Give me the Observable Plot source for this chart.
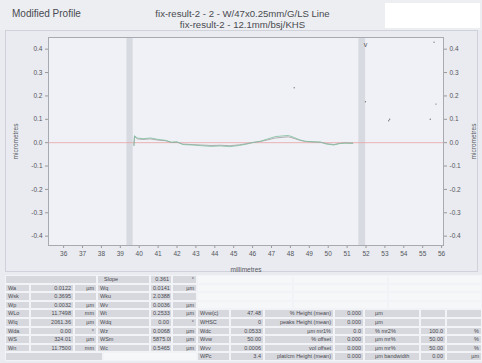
<!DOCTYPE html>
<html><head><meta charset="utf-8">
<script src="https://cdn.jsdelivr.net/npm/d3@7"></script>
<script src="https://cdn.jsdelivr.net/npm/@observablehq/plot@0.6"></script>
<style>
html,body{margin:0;padding:0;background:#e9ebf0;width:482px;height:363px;overflow:hidden;font-family:"Liberation Sans",Arial,sans-serif;color:#4a4a50;}
#wrap{position:relative;width:482px;height:363px;}
.abs{position:absolute;}
.cell{position:absolute;box-sizing:border-box;border:1px solid #f2f3f6;font-size:5.5px;line-height:7px;white-space:nowrap;overflow:hidden;padding:0 2px;color:#4a4a50;}
</style></head>
<body><div id="wrap">
<div class="abs" style="left:0;top:0;width:482px;height:30px;background:#eceef2;"></div>
<div class="abs" style="left:12px;top:8px;font-size:10px;">Modified Profile</div>
<div class="abs" style="left:100px;top:8px;width:285px;text-align:center;font-size:9.6px;line-height:11px;">fix-result-2 - 2 - W/47x0.25mm/G/LS Line<br>fix-result-2 - 12.1mm/bsj/KHS</div>
<div class="abs" style="left:385px;top:3px;width:95px;height:25px;background:#ffffff;"></div>
<div class="abs" style="left:5px;top:30px;width:473px;height:242px;border:1px solid #cfd2da;box-sizing:border-box;"></div>
<div id="chart" class="abs" style="left:0;top:30px;"></div>
<div id="table" class="abs" style="left:0;top:0;"></div>
</div>
<script>
// ---- chart data ----
const xTicks = [36,37,38,39,40,41,42,43,44,45,46,47,48,49,50,51,52,53,54,55,56];
const yTicks = [-0.4,-0.3,-0.2,-0.1,0,0.1,0.2,0.3,0.4];
const bandStart = [39.35, 51.62];
const bandEnd   = [39.68, 51.98];
const profX = [39.72,39.75,39.9,40.2,40.6,41.0,41.4,41.7,42.0,42.3,42.8,43.3,43.8,44.3,44.8,45.3,45.7,46.0,46.4,46.8,47.2,47.6,47.9,48.2,48.5,48.8,49.2,49.6,49.9,50.3,50.6,50.9,51.3];
const profGreen = [-0.012,0.030,0.020,0.017,0.020,0.014,0.010,0.002,0.004,-0.008,-0.010,-0.013,-0.016,-0.014,-0.017,-0.012,-0.006,0.000,0.006,0.016,0.026,0.029,0.031,0.022,0.012,0.006,0.004,0.002,-0.006,-0.010,-0.004,-0.002,-0.003];
const profGray  = [-0.012,0.026,0.016,0.014,0.016,0.011,0.008,0.001,0.002,-0.006,-0.008,-0.010,-0.012,-0.011,-0.013,-0.009,-0.004,0.001,0.005,0.012,0.020,0.023,0.025,0.018,0.010,0.005,0.003,0.002,-0.004,-0.008,-0.003,-0.001,-0.002];
const speckX = [48.2, 51.97, 53.2, 53.25, 55.4, 55.7, 55.6];
const speckY = [0.235, 0.175, 0.094, 0.10, 0.10, 0.165, 0.43];
const markX = [51.97];
const markY = [0.42];

const bands = bandStart.map((s,i)=>({x1:s,x2:bandEnd[i]}));
const green = profX.map((x,i)=>({x, y:profGreen[i]}));
const gray = profX.map((x,i)=>({x, y:profGray[i]}));
const specks = speckX.map((x,i)=>({x, y:speckY[i]}));
const marks = markX.map((x,i)=>({x, y:markY[i], t:"v"}));
const fmt = d => d.toFixed(1);

const chart = Plot.plot({
  width: 482, height: 245,
  marginLeft: 48, marginRight: 39, marginTop: 7, marginBottom: 30,
  x: {domain:[35.2,56.1]},
  y: {domain:[-0.44,0.45]},
  style: {background:"transparent", color:"#55565c", fontSize:"6.5px", fontFamily:"Liberation Sans, Arial, sans-serif"},
  marks: [
    Plot.frame({fill:"#f0f1f6", stroke:null}),
    Plot.rect(bands, {x1:"x1", x2:"x2", fill:"#d8dae1"}),
    Plot.ruleY([0], {stroke:"#e7a3a3", strokeWidth:0.8}),
    Plot.line(gray, {x:"x", y:"y", stroke:"#a09c9c", strokeWidth:0.8}),
    Plot.line(green, {x:"x", y:"y", stroke:"#7fbf9f", strokeWidth:0.8}),
    Plot.dot(specks, {x:"x", y:"y", r:0.7, fill:"#777", stroke:null}),
    Plot.text(marks, {x:"x", y:"y", text:"t", fontSize:7, fill:"#555"}),
    Plot.axisX({ticks:xTicks, tickSize:3, tickPadding:3, label:"millimetres", labelAnchor:"center", labelOffset:26, labelArrow:"none", stroke:"#999"}),
    Plot.axisY({anchor:"left", ticks:yTicks, tickFormat:fmt, tickSize:3, tickPadding:3, label:"micrometres", labelAnchor:"center", labelOffset:35, labelArrow:"none", stroke:"#999"}),
    Plot.axisY({anchor:"right", ticks:yTicks, tickFormat:fmt, tickSize:3, tickPadding:3, label:"micrometres", labelAnchor:"center", labelOffset:32, labelArrow:"none", stroke:"#999"}),
    Plot.frame({stroke:"#a8aab2"})
  ]
});
document.getElementById("chart").appendChild(chart);

// ---- table data ----
const col1Labels = ["Wa","Wsk","Wp","WLo","Wlq","Wda","WS","Wn"];
const col1Values = ["0.0122","0.3695","0.0032","11.7498","2061.36","0.00","324.01","11.7500"];
const col1Units  = ["µm","","µm","mm","µm","°","µm","mm"];
const col2Labels = ["Wq","Wku","Wv","Wt","Wdq","Wz","WSm","Wc"];
const col2Values = ["0.0141","2.0388","0.0036","0.2533","0.00","0.0068","5875.00","0.5465"];
const col2Units  = ["µm","","µm","µm","°","µm","µm","µm"];
const slopeRow = ["Slope","0.361","°"];
const col3Labels = ["Wvw(c)","WHSC","Wdc","Wvw","Wvv","WPc"];
const col3Values = ["47.48","0","0.0533","50.00","0.0006","3.4"];
const col3Units  = ["% Height (mean)","peaks Height (mean)","µm mr1%","% offset","vol offset","plat/cm Height (mean)"];
const col4Values = ["0.000","0.000","0.0","0.000","0.000","0.000"];
const col4Units  = ["µm","µm","% mr2%","µm mr%","µm mr%","µm bandwidth"];
const col5Values = ["","","100.0","50.00","50.00","0.00"];
const col5Units  = ["","","%","%","%","µm"];

const T = document.getElementById("table");
const top0 = 275, rh = 8.6;
const G = "#d6d8de", W = "#f6f7f9";
// columns: [x, width, align]
const C = {A:[5,25,"left"],B:[30,44,"right"],C:[74,23,"right"],D:[97,53,"left"],E:[150,22,"right"],F:[172,25,"right"],
  G:[197,33,"left"],H:[230,34,"right"],I:[264,70,"right"],J:[334,30,"right"],K:[364,56,"left"],L:[420,26,"right"],M:[446,36,"right"]};
function cell(x,w,r,text,align,bg,pad){
  const d=document.createElement("div");
  d.className="cell";
  d.style.left=x+"px"; d.style.top=(top0+r*rh)+"px";
  d.style.width=w+"px"; d.style.height=rh+"px";
  d.style.textAlign=align; d.style.background=bg;
  if(pad) d.style.paddingLeft=pad+"px";
  d.textContent=text; T.appendChild(d);
}
function c(k,r,text,bg,pad){const s=C[k]; cell(s[0],s[1],r,text,s[2],bg||G,pad);}
// row 0 (slope)
cell(5,92,0,"","left",G);
c("D",0,slopeRow[0],G,6); c("E",0,slopeRow[1]); c("F",0,slopeRow[2]);
// rows 1..8
for(let i=0;i<8;i++){
  const r=i+1;
  c("A",r,col1Labels[i]); c("B",r,col1Values[i]); c("C",r,col1Units[i]);
  c("D",r,col2Labels[i]); c("E",r,col2Values[i]); c("F",r,col2Units[i]);
}
// blank white block rows 0..3
for(let r=0;r<4;r++){
  cell(197,96,r,"","left",W); cell(293,95,r,"","left",W); cell(388,94,r,"","left",W);
}
// rows 4..9 right block
for(let i=0;i<6;i++){
  const r=i+4;
  c("G",r,col3Labels[i]); c("H",r,col3Values[i]); c("I",r,col3Units[i]);
  c("J",r,col4Values[i]); c("K",r,col4Units[i],G,10); c("L",r,col5Values[i]); c("M",r,col5Units[i]);
}
// row 9 left
cell(5,98,9,"","left",G); cell(103,94,9,"","left",W);
</script>
</body></html>
